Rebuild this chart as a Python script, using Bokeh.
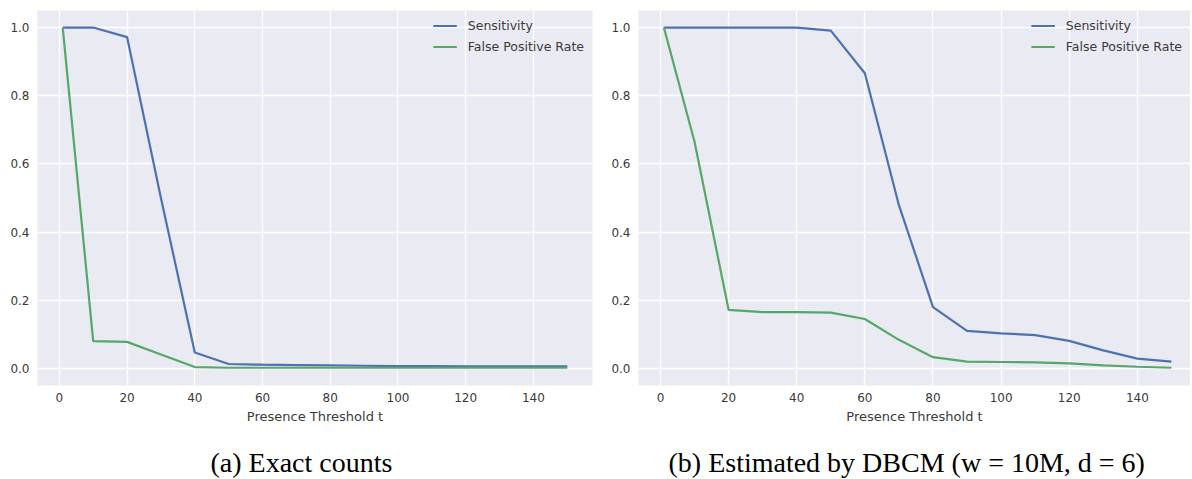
from bokeh.plotting import figure
from bokeh.layouts import row
from bokeh.models import Range1d, Legend, LegendItem, Title, FixedTicker, CustomJSTickFormatter
from bokeh.embed import file_html
from bokeh.resources import INLINE

thresholds = [1, 10, 20, 30, 40, 50, 60, 70, 80, 90, 100, 110, 120, 130, 140, 150]

exact_sensitivity = [1.0, 1.0, 0.972, 0.50, 0.047, 0.013, 0.011, 0.010, 0.009, 0.008,
                     0.007, 0.007, 0.006, 0.006, 0.006, 0.006]
exact_fpr = [1.0, 0.080, 0.078, 0.041, 0.004, 0.002, 0.002, 0.002, 0.002, 0.002,
             0.002, 0.002, 0.002, 0.002, 0.002, 0.002]

dbcm_sensitivity = [1.0, 1.0, 1.0, 1.0, 1.0, 0.991, 0.866, 0.479, 0.180, 0.110,
                    0.103, 0.098, 0.081, 0.053, 0.029, 0.020]
dbcm_fpr = [1.0, 0.665, 0.172, 0.165, 0.165, 0.164, 0.145, 0.084, 0.033, 0.020,
            0.019, 0.018, 0.015, 0.009, 0.005, 0.002]

x_ticks = [0, 20, 40, 60, 80, 100, 120, 140]
y_ticks = [0.0, 0.2, 0.4, 0.6, 0.8, 1.0]
series_names = ["Sensitivity", "False Positive Rate"]
captions = ["(a) Exact counts", "(b) Estimated by DBCM (w = 10M, d = 6)"]
x_label = "Presence Threshold t"

BLUE = "#4C72B0"
GREEN = "#55A868"
BG = "#EAEAF2"
TXT = "#3a3a3a"


def make_panel(sens, fpr, caption, x_end, border_left, frame_w, border_right, cap_offset):
    p = figure(frame_width=frame_w, frame_height=375,
               min_border_left=border_left, min_border_right=border_right,
               min_border_top=10, min_border_bottom=0,
               x_range=Range1d(-6.45, x_end), y_range=Range1d(-0.05, 1.05),
               output_backend="svg", toolbar_location=None,
               background_fill_color=BG, border_fill_color="white",
               outline_line_color=None)
    p.xaxis.ticker = FixedTicker(ticks=x_ticks)
    p.yaxis.ticker = FixedTicker(ticks=y_ticks)
    p.yaxis.formatter = CustomJSTickFormatter(code="return tick.toFixed(1);")
    for ax in (p.xaxis, p.yaxis):
        ax.axis_line_color = None
        ax.major_tick_line_color = None
        ax.minor_tick_line_color = None
        ax.major_tick_out = 0
        ax.major_tick_in = 0
        ax.major_label_text_font = "DejaVu Sans"
        ax.major_label_text_font_size = "12px"
        ax.major_label_text_color = TXT
    p.xaxis.major_label_standoff = 7
    p.yaxis.major_label_standoff = 8
    p.xaxis.axis_label = x_label
    p.xaxis.axis_label_text_font = "DejaVu Sans"
    p.xaxis.axis_label_text_font_size = "13px"
    p.xaxis.axis_label_text_font_style = "normal"
    p.xaxis.axis_label_text_color = TXT
    p.xaxis.axis_label_standoff = 4
    p.grid.grid_line_color = "white"
    p.grid.grid_line_width = 1.3
    p.xgrid.ticker = FixedTicker(ticks=x_ticks)
    p.ygrid.ticker = FixedTicker(ticks=y_ticks)

    r1 = p.line(thresholds, sens, line_color=BLUE, line_width=2.2)
    r2 = p.line(thresholds, fpr, line_color=GREEN, line_width=2.2)
    legend = Legend(items=[LegendItem(label=series_names[0], renderers=[r1]),
                           LegendItem(label=series_names[1], renderers=[r2])],
                    location="top_right", background_fill_alpha=0,
                    border_line_alpha=0, label_text_font="DejaVu Sans",
                    label_text_font_size="12.5px", label_text_color=TXT,
                    glyph_width=24, glyph_height=13, label_height=13,
                    spacing=6, padding=5, margin=3, label_standoff=11)
    p.add_layout(legend)
    t = Title(text=caption, align="left", text_font="Liberation Serif",
              text_font_size="28px", text_font_style="normal",
              text_color="black", standoff=37, offset=cap_offset)
    p.add_layout(t, "below")
    return p


left = make_panel(exact_sensitivity, exact_fpr, captions[0], 157.45, 37, 555, 8, 173)
right = make_panel(dbcm_sensitivity, dbcm_fpr, captions[1], 155.6, 38, 552, 0, 30)

layout = row(left, right, spacing=0)
open("out.html", "w").write(file_html(layout, INLINE))
